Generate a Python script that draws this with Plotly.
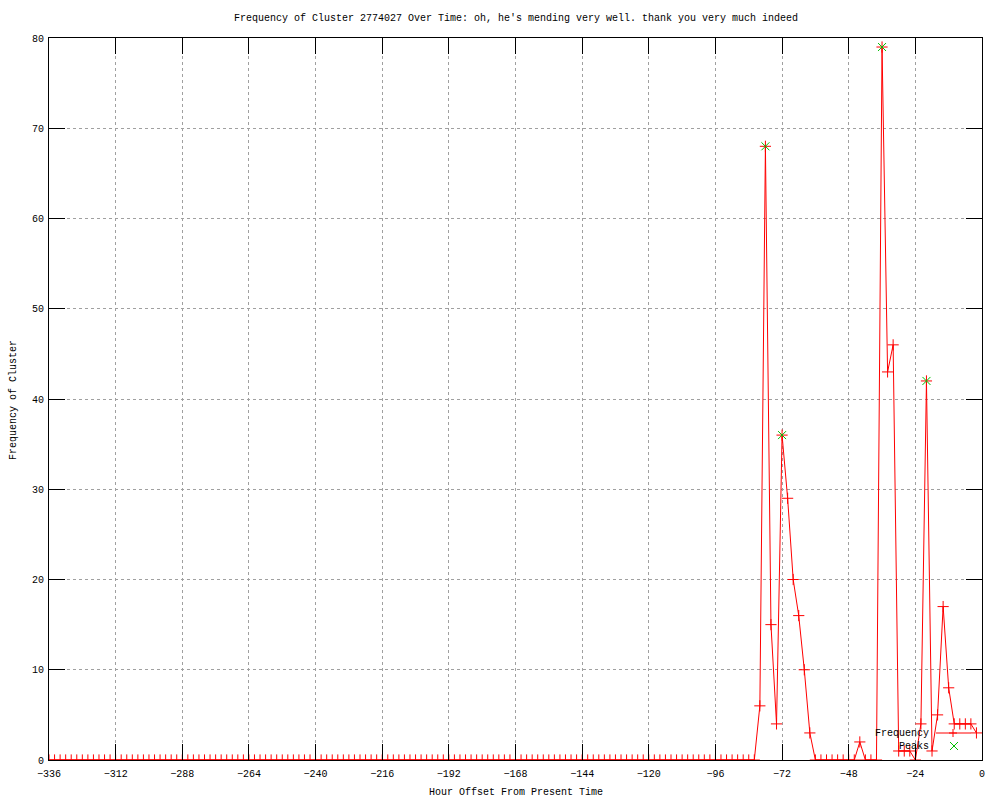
import plotly.graph_objects as go

# Hour offsets (every 2 hours from -336 to -2)
hours = list(range(-336, 0, 2))

# Frequency values (168 points)
freq_values = (
    [0] * 128 +
    [6, 68, 15, 4, 36, 29, 20, 16, 10, 3,      # -80 .. -62
     0, 0, 0, 0, 0, 0, 0, 0,                   # -60 .. -46
     2, 0, 0, 0,                               # -44 .. -38
     79, 43, 46, 1, 1, 1, 0, 4, 42, 1, 5, 17,  # -36 .. -14
     8, 4, 4, 4, 4, 3]                         # -12 .. -2
)

# Peaks
peak_hours = [-78, -72, -36, -20]
peak_values = [68, 36, 79, 42]

x_ticks = list(range(-336, 1, 24))
y_ticks = list(range(0, 81, 10))

title_text = "Frequency of Cluster 2774027 Over Time: oh, he's mending very well. thank you very much indeed"
x_title = "Hour Offset From Present Time"
y_title = "Frequency of Cluster"

FONT = "Liberation Mono"
RED = "#ff0000"
GREEN = "#00c000"

fig = go.Figure()
fig.add_trace(go.Scatter(
    x=hours, y=freq_values, mode="lines+markers", name="Frequency",
    line=dict(color=RED, width=1),
    marker=dict(symbol="cross-thin", size=8, line=dict(color=RED, width=1), color=RED),
    showlegend=False,
))
fig.add_trace(go.Scatter(
    x=peak_hours, y=peak_values, mode="markers", name="Peaks",
    marker=dict(symbol="x-thin", size=8, line=dict(color=GREEN, width=1), color=GREEN),
    showlegend=False,
))

# plot area in pixels: x 49..982, y 38..760
L, R, T, B = 49, 18, 38, 40
W, H = 1000, 800
pw = W - L - R
ph = H - T - B

def px(xp):
    return (xp - L) / pw

def py(yp):
    return (H - B - yp) / ph

annotations = [
    dict(text=title_text, xref="paper", yref="paper", x=0.5, y=py(18), xanchor="center",
         yanchor="middle", showarrow=False, font=dict(family=FONT, size=10, color="black")),
    dict(text=x_title, xref="paper", yref="paper", x=0.5, y=py(793), xanchor="center",
         yanchor="middle", showarrow=False, font=dict(family=FONT, size=10, color="black")),
    dict(text=y_title, xref="paper", yref="paper", x=px(13), y=py(400), xanchor="center",
         yanchor="middle", textangle=-90, showarrow=False,
         font=dict(family=FONT, size=10, color="black")),
    dict(text="Frequency", xref="paper", yref="paper", x=px(931), y=py(733), xanchor="right",
         yanchor="middle", showarrow=False, font=dict(family=FONT, size=10, color="black")),
    dict(text="Peaks", xref="paper", yref="paper", x=px(931), y=py(746), xanchor="right",
         yanchor="middle", showarrow=False, font=dict(family=FONT, size=10, color="black")),
]

d = 4
shapes = [
    # Frequency key sample: line with + marker
    dict(type="line", xref="paper", yref="paper", x0=px(936), x1=px(971), y0=py(733), y1=py(733),
         line=dict(color=RED, width=1)),
    dict(type="line", xref="paper", yref="paper", x0=px(953 - d), x1=px(953 + d), y0=py(733), y1=py(733),
         line=dict(color=RED, width=1)),
    dict(type="line", xref="paper", yref="paper", x0=px(953), x1=px(953), y0=py(733 - d), y1=py(733 + d),
         line=dict(color=RED, width=1)),
    # Peaks key sample: green x
    dict(type="line", xref="paper", yref="paper", x0=px(954 - d), x1=px(954 + d), y0=py(746 - d), y1=py(746 + d),
         line=dict(color=GREEN, width=1)),
    dict(type="line", xref="paper", yref="paper", x0=px(954 - d), x1=px(954 + d), y0=py(746 + d), y1=py(746 - d),
         line=dict(color=GREEN, width=1)),
]

axis_common = dict(
    showline=True, linecolor="black", linewidth=1, mirror="allticks",
    ticks="inside", ticklen=16, tickwidth=1, tickcolor="black",
    showgrid=True, gridcolor="#a0a0a0", gridwidth=1, griddash="dot",
    zeroline=False, tickfont=dict(family=FONT, size=10, color="black"),
)

fig.update_layout(
    width=W, height=H,
    margin=dict(l=L, r=R, t=T, b=B, autoexpand=False),
    paper_bgcolor="white", plot_bgcolor="white",
    annotations=annotations, shapes=shapes,
    showlegend=False,
    xaxis=dict(range=[-336, 0], tickmode="array", tickvals=x_ticks,
               ticklabelstandoff=4, **axis_common),
    yaxis=dict(range=[0, 80], tickmode="array", tickvals=y_ticks,
               ticklabelstandoff=2, **axis_common),
)

fig.write_html("out.html",
               config={"displayModeBar": False},
               post_script="document.body.style.margin='0';document.body.style.overflow='hidden';")
